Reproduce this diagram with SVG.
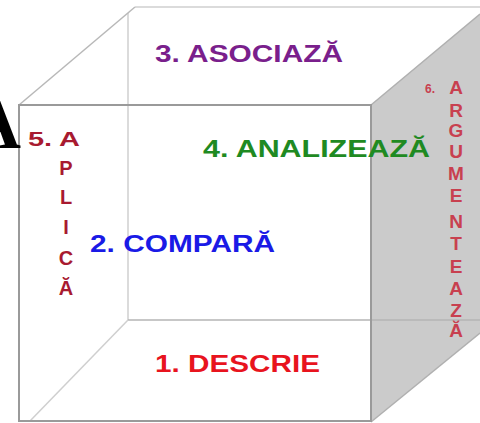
<svg xmlns="http://www.w3.org/2000/svg" width="480" height="423" viewBox="0 0 480 423">
<style>
.t{font-family:"Liberation Sans",Arial,sans-serif;font-weight:bold}
.back{stroke:#cfcfcf;stroke-width:1.5;fill:none}
.front{stroke:#9a9a9a;stroke-width:2;fill:none}
.v5{fill:#a81a30;font-size:20px;text-anchor:middle}
.v6{fill:#c8404f;font-size:19px;text-anchor:middle}
</style>
<rect width="480" height="423" fill="#ffffff"/>
<g id="connectors">
<polygon points="371,105 480,14 480,333 371,422" fill="#cbcbcb"/>
<line class="back" x1="135" y1="7" x2="480" y2="7"/>
<line class="back" x1="128" y1="13" x2="128" y2="320"/>
<line class="back" x1="128" y1="320" x2="480" y2="320" style="stroke:#b5b5b5"/>
<line class="back" x1="19" y1="105" x2="135" y2="7" style="stroke:#b8b8b8"/>
<line class="back" x1="128" y1="320" x2="30" y2="421"/>
<line class="back" x1="371" y1="105" x2="480" y2="14" style="stroke:#b0b0b0"/>
<line class="back" x1="371" y1="422" x2="480" y2="333" style="stroke:#b0b0b0"/>
<rect class="front" x="19" y="105" width="352" height="316"/>
</g>
<g id="bigA"><text x="-31" y="148" font-family="Liberation Serif,Times New Roman,serif" font-weight="bold" font-size="72" fill="#000">A</text></g>
<g id="n3"><text class="t" x="155" y="62" font-size="23" fill="#7a1f8c" textLength="188" lengthAdjust="spacingAndGlyphs">3. ASOCIAZĂ</text></g>
<g id="n4"><text class="t" x="203" y="157" font-size="23" fill="#1f8a22" textLength="227" lengthAdjust="spacingAndGlyphs">4. ANALIZEAZĂ</text></g>
<g id="n2"><text class="t" x="90" y="252" font-size="23" fill="#1a1ae6" textLength="185" lengthAdjust="spacingAndGlyphs">2. COMPARĂ</text></g>
<g id="n1"><text class="t" x="155" y="372" font-size="24" fill="#e8141e" textLength="165" lengthAdjust="spacingAndGlyphs">1. DESCRIE</text></g>
<g id="n5" class="t">
<text class="t" x="28" y="146" font-size="20" fill="#a81a30" textLength="52" lengthAdjust="spacingAndGlyphs">5. A</text>
<text class="t v5" x="66" y="175">P</text>
<text class="t v5" x="66" y="204">L</text>
<text class="t v5" x="66" y="234">I</text>
<text class="t v5" x="66" y="265">C</text>
<text class="t v5" x="66" y="295">Ă</text>
</g>
<g id="n6">
<text class="t" x="425" y="93" font-size="12" fill="#c8404f">6.</text>
<text class="t v6" x="456" y="94">A</text>
<text class="t v6" x="456" y="117">R</text>
<text class="t v6" x="456" y="137">G</text>
<text class="t v6" x="456" y="158">U</text>
<text class="t v6" x="456" y="180">M</text>
<text class="t v6" x="456" y="202">E</text>
<text class="t v6" x="456" y="228">N</text>
<text class="t v6" x="456" y="250">T</text>
<text class="t v6" x="456" y="273">E</text>
<text class="t v6" x="456" y="295">A</text>
<text class="t v6" x="456" y="317">Z</text>
<text class="t v6" x="456" y="337">Ă</text>
</g>
</svg>
